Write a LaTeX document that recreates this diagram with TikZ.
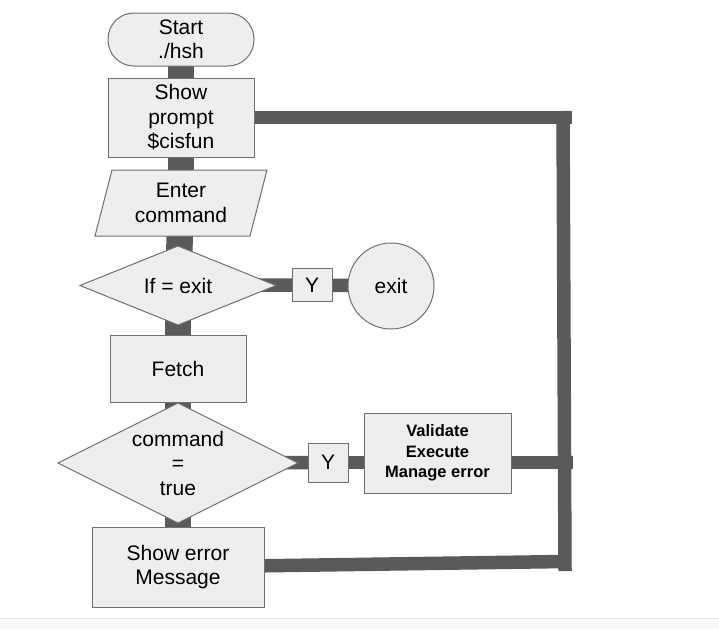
\documentclass[tikz,border=0pt]{standalone}
\usepackage{fontspec}
\setmainfont{Liberation Sans}
\usetikzlibrary{shapes.geometric}
\pgfdeclarelayer{back}
\pgfdeclarelayer{bg}
\pgfsetlayers{back,bg,main}
\definecolor{conn}{HTML}{5A5A5A}
\definecolor{boxfill}{HTML}{EEEEEE}
\definecolor{boxline}{HTML}{707070}
\definecolor{strip}{HTML}{F8F9FA}
\definecolor{stripline}{HTML}{E6E8EA}
\tikzset{
  box/.style={draw=boxline, fill=boxfill, line width=1pt, inner sep=0pt, align=center,
    font=\fontsize{21}{24.5}\selectfont},
  txt/.style={inner sep=0pt, align=center, font=\fontsize{21}{24.5}\selectfont},
  shapebox/.style={draw=boxline, fill=boxfill, line width=1pt, line join=miter},
  vconn/.style={draw=conn, line width=26.5pt},
  hconn/.style={draw=conn, line width=13.5pt},
}
\begin{document}
\begin{tikzpicture}[x=1pt,y=-1pt]
\useasboundingbox (0,0) rectangle (719,629);
\begin{pgfonlayer}{back}
\fill[white] (0,0) rectangle (719,629);
\fill[strip] (0,618) rectangle (719,629);
\draw[stripline, line width=1pt] (0,618) -- (719,618);
\end{pgfonlayer}

% nodes
\node[box, rounded corners=26pt, minimum width=146pt, minimum height=53pt] (start) at (181,39.5) {Start\\./hsh};
\node[box, minimum width=146pt, minimum height=79pt] (prompt) at (181,117.5) {Show\\prompt\\\$cisfun};
\draw[shapebox] (95,236) -- (112,170) -- (267,170) -- (250,236) -- cycle;
\node[txt] (enter) at (181,203) {Enter\\command};
\draw[shapebox] (80,285.5) -- (178,246) -- (276,285.5) -- (178,325) -- cycle;
\node[txt] (ifexit) at (178,285.5) {If = exit};
\node[box, minimum width=40pt, minimum height=33pt] (y1) at (312,285) {Y};
\node[box, circle, minimum size=86pt] (exit) at (391,286) {exit};
\node[box, minimum width=136pt, minimum height=67pt] (fetch) at (178,368.5) {Fetch};
\draw[shapebox] (58,463) -- (178,403) -- (298,463) -- (178,523) -- cycle;
\node[txt] (cmdtrue) at (178,463) {command\\=\\true};
\node[box, minimum width=40pt, minimum height=39pt] (y2) at (328,462.5) {Y};
\node[box, minimum width=147pt, minimum height=80pt, font=\fontsize{16.5}{20.5}\selectfont\bfseries] (valid) at (437.5,453) {Validate\\Execute\\Manage error};
\node[box, minimum width=172pt, minimum height=80pt] (err) at (178,567) {Show error\\Message};

\coordinate (tr) at (572,117.5);
\coordinate (rtop) at (563,111);
\coordinate (rbot) at (565,571);
\coordinate (vr) at (573,462.5);
\coordinate (br) at (565,561.5);

\begin{pgfonlayer}{bg}
\draw[vconn] (start.center) -- (prompt.center);
\draw[vconn] (prompt.center) -- (enter.center);
\draw[vconn] (enter.center) -- (ifexit.center);
\draw[vconn] (ifexit.center) -- (fetch.center);
\draw[vconn] (fetch.center) -- (cmdtrue.center);
\draw[vconn] (cmdtrue.center) -- (err.center);
\draw[hconn] (ifexit.center) -- (y1.center);
\draw[hconn] (y1.center) -- (exit.center);
\draw[hconn] (cmdtrue.center) -- (y2.center);
\draw[hconn] (y2.center) -- (y2.center -| valid.center);
\draw[hconn] (valid.center |- vr) -- (vr);
\draw[hconn] (prompt.center) -- (tr);
\draw[hconn] (rtop) -- (rbot);
\draw[hconn] (err.center) -- (br);
\end{pgfonlayer}
\end{tikzpicture}
\end{document}
